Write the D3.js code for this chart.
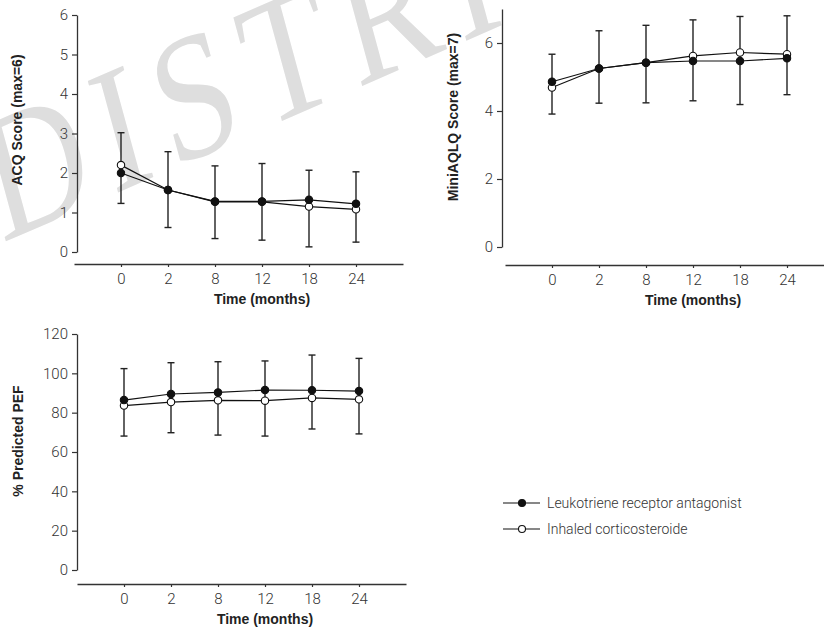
<!DOCTYPE html>
<html>
<head>
<meta charset="utf-8">
<script src="https://cdn.jsdelivr.net/npm/d3@7"></script>
<style>
  html, body { margin: 0; padding: 0; background: #fff; }
  svg { display: block; }
  .tick text { font-family: Roboto, "Liberation Sans", sans-serif; font-weight: 300; font-size: 15px; fill: #333; }
  .title { font-family: "Liberation Sans", sans-serif; font-weight: bold; font-size: 14px; fill: #222; }
  .legend { font-family: Roboto, "Liberation Sans", sans-serif; font-weight: 300; font-size: 14px; fill: #333; }
</style>
</head>
<body>
<svg id="chart" width="824" height="629"></svg>
<script>
// ---- data ----
const months = ["0", "2", "8", "12", "18", "24"];
const seriesNames = ["Leukotriene receptor antagonist", "Inhaled corticosteroide"];

// ACQ score (max=6)
const acqLTRA = [2.0, 1.57, 1.28, 1.28, 1.32, 1.22];
const acqICS  = [2.2, 1.57, 1.27, 1.27, 1.15, 1.08];
const acqErrHigh = [3.02, 2.54, 2.18, 2.24, 2.07, 2.03];
const acqErrLow  = [1.23, 0.62, 0.34, 0.30, 0.13, 0.25];
const acqTicks = [0, 1, 2, 3, 4, 5, 6];

// MiniAQLQ score (max=7)
const aqlqLTRA = [4.86, 5.25, 5.42, 5.47, 5.47, 5.55];
const aqlqICS  = [4.69, 5.25, 5.42, 5.62, 5.72, 5.67];
const aqlqErrHigh = [5.67, 6.36, 6.52, 6.68, 6.78, 6.80];
const aqlqErrLow  = [3.91, 4.23, 4.24, 4.30, 4.19, 4.48];
const aqlqTicks = [0, 2, 4, 6];

// % predicted PEF
const pefLTRA = [86.4, 89.5, 90.3, 91.5, 91.4, 91.0];
const pefICS  = [83.6, 85.4, 86.3, 86.1, 87.5, 86.8];
const pefErrHigh = [102.4, 105.4, 105.9, 106.3, 109.3, 107.6];
const pefErrLow  = [68.1, 69.8, 68.6, 68.1, 71.7, 69.2];
const pefTicks = [0, 20, 40, 60, 80, 100, 120];

const watermark = "DISTRI";

const svg = d3.select("#chart");

// watermark
svg.append("text")
  .attr("transform", "translate(2,243) scale(0.79,1) rotate(-19)")
  .attr("font-family", "Liberation Serif, serif")
  .attr("font-size", 180)
  .attr("letter-spacing", 19)
  .attr("fill", "#dedede")
  .text(watermark);

function panel(cfg) {
  const g = svg.append("g");
  const x = d3.scalePoint().domain(months).range(cfg.xr).padding(1);
  const y = d3.scaleLinear().domain(cfg.yd).range(cfg.yr);

  // y axis
  const ya = g.append("g")
    .attr("transform", `translate(${cfg.yx},0)`)
    .call(d3.axisLeft(y).tickValues(cfg.ticks).tickFormat(d3.format("d"))
      .tickSize(5).tickSizeOuter(0).tickPadding(4));
  ya.select(".domain").attr("stroke", "#333").attr("stroke-width", 1.3);
  ya.selectAll(".tick line").attr("stroke", "#333").attr("stroke-width", 1.2);

  // x axis
  const xa = g.append("g")
    .attr("transform", `translate(0,${cfg.xy})`)
    .call(d3.axisBottom(x).tickSize(3).tickSizeOuter(0).tickPadding(6));
  xa.select(".domain").attr("stroke", "#333").attr("stroke-width", 1.3);
  xa.selectAll(".tick line").attr("stroke", "#333").attr("stroke-width", 1.2);

  // titles
  g.append("text").attr("class", "title")
    .attr("x", x("12")).attr("y", cfg.xy + 40)
    .attr("text-anchor", "middle").text("Time (months)");
  g.append("text").attr("class", "title")
    .attr("transform", `translate(${cfg.ytx},${cfg.yty}) rotate(-90)`)
    .attr("text-anchor", "middle").text(cfg.ylabel);

  // error bars
  const cap = 3.5;
  const eb = g.append("g").attr("stroke", "#222").attr("stroke-width", 1.4).attr("fill", "none");
  months.forEach((m, i) => {
    const cx = x(m);
    eb.append("line").attr("x1", cx).attr("x2", cx).attr("y1", y(cfg.hi[i])).attr("y2", y(cfg.lo[i]));
    eb.append("line").attr("x1", cx - cap).attr("x2", cx + cap).attr("y1", y(cfg.hi[i])).attr("y2", y(cfg.hi[i]));
    eb.append("line").attr("x1", cx - cap).attr("x2", cx + cap).attr("y1", y(cfg.lo[i])).attr("y2", y(cfg.lo[i]));
  });

  const line = d3.line().x((d, i) => x(months[i])).y(d => y(d));
  [cfg.ics, cfg.ltra].forEach(s => {
    g.append("path").attr("d", line(s)).attr("fill", "none").attr("stroke", "#111").attr("stroke-width", 1.2);
  });
  [[cfg.ics, "#fff"], [cfg.ltra, "#111"]].forEach(([s, fill]) => {
    g.selectAll(null).data(s).enter().append("circle")
      .attr("cx", (d, i) => x(months[i])).attr("cy", d => y(d)).attr("r", 3.7)
      .attr("fill", fill).attr("stroke", "#111").attr("stroke-width", 1.1);
  });
}

panel({ xr: [74, 403], xy: 264, yx: 77, yd: [0, 6], yr: [252, 15], ticks: acqTicks,
  ylabel: "ACQ Score (max=6)", ytx: 22, yty: 120,
  ltra: acqLTRA, ics: acqICS, hi: acqErrHigh, lo: acqErrLow });

panel({ xr: [505, 834], xy: 265, yx: 502, yd: [0, 7], yr: [247, 9], ticks: aqlqTicks,
  ylabel: "MiniAQLQ Score (max=7)", ytx: 458, yty: 117,
  ltra: aqlqLTRA, ics: aqlqICS, hi: aqlqErrHigh, lo: aqlqErrLow });

panel({ xr: [77, 406], xy: 584, yx: 77, yd: [0, 120], yr: [570, 334], ticks: pefTicks,
  ylabel: "% Predicted PEF", ytx: 23, yty: 441,
  ltra: pefLTRA, ics: pefICS, hi: pefErrHigh, lo: pefErrLow });

// legend
const leg = svg.append("g");
const legFills = ["#111", "#fff"];
seriesNames.forEach((name, i) => {
  const ly = 503 + i * 26;
  leg.append("line").attr("x1", 503).attr("x2", 540).attr("y1", ly).attr("y2", ly)
    .attr("stroke", "#111").attr("stroke-width", 1.2);
  leg.append("circle").attr("cx", 522).attr("cy", ly).attr("r", 3.5)
    .attr("fill", legFills[i]).attr("stroke", "#111").attr("stroke-width", 1.1);
  leg.append("text").attr("class", "legend").attr("x", 547).attr("y", ly).attr("dy", "0.35em").text(name);
});
</script>
</body>
</html>
